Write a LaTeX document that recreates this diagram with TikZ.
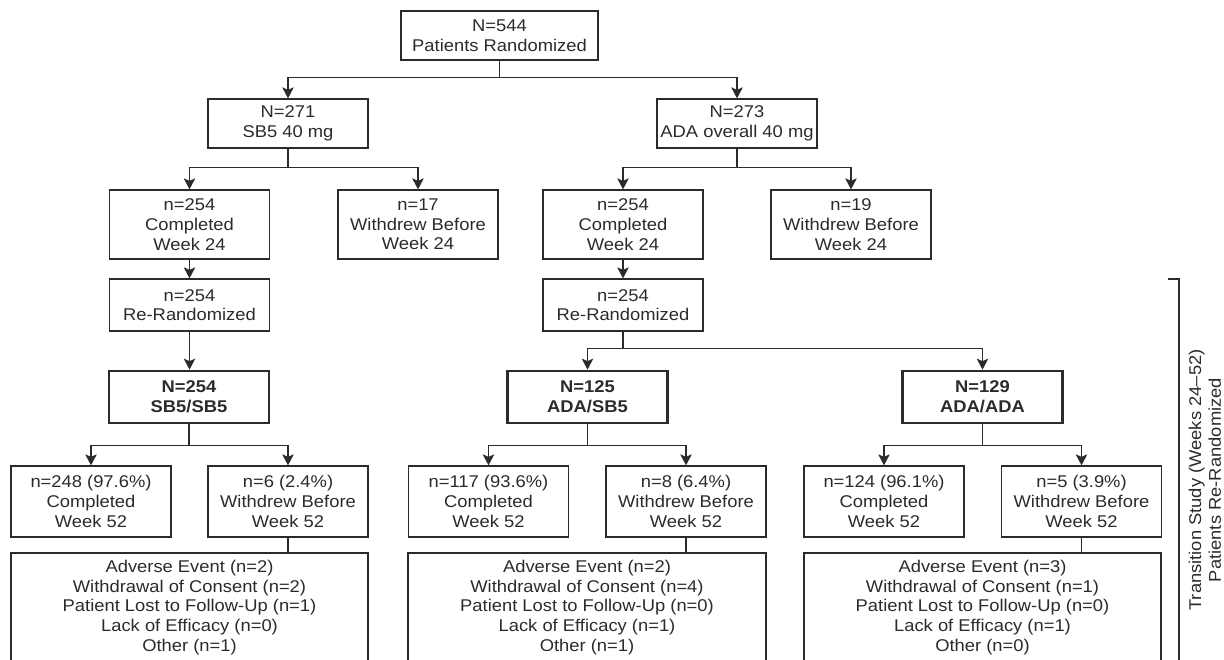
\documentclass[tikz,border=0pt]{standalone}
\usepackage{fontspec}
\setmainfont{Liberation Sans}[FakeStretch=1.08]
\usetikzlibrary{arrows.meta}
\definecolor{lc}{HTML}{2B2B2B}
\begin{document}
\begin{tikzpicture}[x=1pt,y=-1pt,
  txt/.style={font=\fontsize{17}{19.7}\selectfont, text=lc, align=center},
  box/.style={txt, draw=lc, line width=1.3pt, inner sep=0pt, minimum width=160pt},
  thickbox/.style={box, line width=2.7pt, font=\fontsize{17}{19.7}\selectfont\bfseries},
  conn/.style={draw=lc, line width=1.3pt},
  arr/.style={conn, -{Stealth[length=11pt,width=11.5pt,inset=2.5pt]}}
]
\useasboundingbox (0,0) rectangle (1224,659);
% level 0
\node[box, minimum width=197pt, minimum height=49pt] (top) at (499.5,35.5) {N=544\\Patients Randomized};
% level 1
\node[box, minimum height=49pt] (sb5) at (288,123.5) {N=271\\SB5 40 mg};
\node[box, minimum height=49pt] (ada) at (737,123.5) {N=273\\ADA overall 40 mg};
% level 2
\node[box, minimum height=69pt] (sbc24) at (189.5,224.5) {n=254\\Completed\\Week 24};
\node[box, minimum height=69pt] (sbw24) at (418,224.5) {n=17\\Withdrew Before\\Week 24};
\node[box, minimum height=69pt] (adac24) at (623,224.5) {n=254\\Completed\\Week 24};
\node[box, minimum height=69pt] (adaw24) at (851,224.5) {n=19\\Withdrew Before\\Week 24};
% re-randomized
\node[box, minimum height=52pt] (sbrr) at (189.5,305) {n=254\\Re-Randomized};
\node[box, minimum height=52pt] (adarr) at (623,305) {n=254\\Re-Randomized};
% transition arms
\node[thickbox, minimum height=52pt] (sbsb) at (189,397) {N=254\\SB5/SB5};
\node[thickbox, minimum height=52pt] (adasb) at (587.5,397) {N=125\\ADA/SB5};
\node[thickbox, minimum height=52pt] (adaada) at (982.5,397) {N=129\\ADA/ADA};
% week 52
\node[box, minimum height=71pt] (sbc52) at (91,501.5) {n=248 (97.6\%)\\Completed\\Week 52};
\node[box, minimum height=71pt] (sbw52) at (288,501.5) {n=6 (2.4\%)\\Withdrew Before\\Week 52};
\node[box, minimum height=71pt] (adsbc52) at (488.5,501.5) {n=117 (93.6\%)\\Completed\\Week 52};
\node[box, minimum height=71pt] (adsbw52) at (686,501.5) {n=8 (6.4\%)\\Withdrew Before\\Week 52};
\node[box, minimum height=71pt] (adadc52) at (884,501.5) {n=124 (96.1\%)\\Completed\\Week 52};
\node[box, minimum height=71pt] (adadw52) at (1081.5,501.5) {n=5 (3.9\%)\\Withdrew Before\\Week 52};
% reasons
\node[box, minimum width=357pt, minimum height=109pt] (sbr) at (189.5,607.5) {Adverse Event (n=2)\\Withdrawal of Consent (n=2)\\Patient Lost to Follow-Up (n=1)\\Lack of Efficacy (n=0)\\Other (n=1)};
\node[box, minimum width=358pt, minimum height=109pt] (adsbr) at (587,607.5) {Adverse Event (n=2)\\Withdrawal of Consent (n=4)\\Patient Lost to Follow-Up (n=0)\\Lack of Efficacy (n=1)\\Other (n=1)};
\node[box, minimum width=357pt, minimum height=109pt] (adadr) at (982.5,607.5) {Adverse Event (n=3)\\Withdrawal of Consent (n=1)\\Patient Lost to Follow-Up (n=0)\\Lack of Efficacy (n=1)\\Other (n=0)};
% connectors
\draw[arr] (top.south) -- ++(0,17) -| (sb5.north);
\draw[arr] (top.south) -- ++(0,17) -| (ada.north);
\draw[arr] (sb5.south) -- ++(0,19) -| (sbc24.north);
\draw[arr] (sb5.south) -- ++(0,19) -| (sbw24.north);
\draw[arr] (ada.south) -- ++(0,19) -| (adac24.north);
\draw[arr] (ada.south) -- ++(0,19) -| (adaw24.north);
\draw[arr] (sbc24.south) -- (sbrr.north);
\draw[arr] (adac24.south) -- (adarr.north);
\draw[arr] (sbrr.south) -- (sbrr.south |- sbsb.north);
\draw[arr] (adarr.south) -- ++(0,17) -| (adasb.north);
\draw[arr] (adarr.south) -- ++(0,17) -| (adaada.north);
\draw[arr] (sbsb.south) -- ++(0,21) -| (sbc52.north);
\draw[arr] (sbsb.south) -- ++(0,21) -| (sbw52.north);
\draw[arr] (adasb.south) -- ++(0,21) -| (adsbc52.north);
\draw[arr] (adasb.south) -- ++(0,21) -| (adsbw52.north);
\draw[arr] (adaada.south) -- ++(0,21) -| (adadc52.north);
\draw[arr] (adaada.south) -- ++(0,21) -| (adadw52.north);
\draw[conn] (sbw52.south) -- (sbw52.south |- sbr.north);
\draw[conn] (adsbw52.south) -- (adsbw52.south |- adsbr.north);
\draw[conn] (adadw52.south) -- (adadw52.south |- adadr.north);
% bracket
\coordinate (bt) at (1168,279);
\coordinate (bc) at (1179,279);
\coordinate (bb) at (1179,670);
\draw[conn] (bt) -- (bc) -- (bb);
\node[txt, rotate=90] (lbl) at (1205,480) {Transition Study (Weeks 24--52)\\Patients Re-Randomized};
\end{tikzpicture}
\end{document}
